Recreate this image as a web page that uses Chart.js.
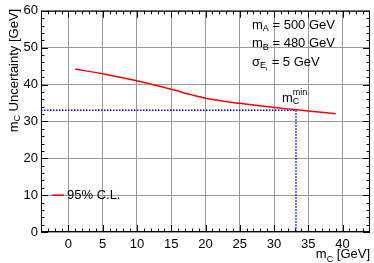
<!DOCTYPE html>
<html>
<head>
<meta charset="utf-8">
<script src="https://cdn.jsdelivr.net/npm/chart.js@4"></script>
<style>
  html, body { margin: 0; padding: 0; background: #fff; }
  #wrap { width: 374px; height: 263px; }
</style>
</head>
<body>
<div id="wrap"><canvas id="uncChart" width="374" height="263"></canvas></div>
<script>
// m_C values and 95% C.L. uncertainty
var massC = [1, 5, 10, 15, 18, 20, 25, 30, 33, 35, 39];
var uncert = [44.2, 42.9, 41.0, 38.7, 37.2, 36.3, 34.9, 33.8, 33.2, 32.8, 32.1];
// m_C^min marker (dashed lines)
var mcMin = 33.2;
var uncAtMin = 33.0;
var xTicks = [0, 5, 10, 15, 20, 25, 30, 35, 40];
var yTicks = [0, 10, 20, 30, 40, 50, 60];
var infoLines = [
  ["m", "A", " = 500 GeV"],
  ["m", "B", " = 480 GeV"],
  ["\u03c3", "E", " = 5 GeV"]
];

var FONT = "'Liberation Sans', Arial, sans-serif";

// helper: text with subscript / superscript
function subText(c, x, y, main, sub, rest, size, sup) {
  c.font = size + "px " + FONT;
  c.fillText(main, x, y);
  var w = c.measureText(main).width;
  c.font = Math.round(size * 0.72) + "px " + FONT;
  c.fillText(sub, x + w, y + size * 0.3);
  var ws = c.measureText(sub).width;
  if (sup) c.fillText(sup, x + w, y - size * 0.45);
  c.font = size + "px " + FONT;
  c.fillText(rest, x + w + ws, y);
}

var rootDeco = {
  id: "rootDeco",
  afterDraw: function (chart) {
    var c = chart.ctx;
    var a = chart.chartArea;
    var xs = chart.scales.x, ys = chart.scales.y;
    c.save();

    // frame
    c.strokeStyle = "#000";
    c.lineWidth = 1;
    c.strokeRect(a.left + 0.5, a.top + 0.5, a.right - a.left - 1, a.bottom - a.top - 1);

    // ticks on all four sides (inside)
    c.beginPath();
    for (var v = -4; v <= 44; v++) {
      var px = Math.round(xs.getPixelForValue(v)) + 0.5;
      if (px < a.left || px > a.right) continue;
      var len = (v % 5 === 0) ? 7 : 3.5;
      c.moveTo(px, a.bottom); c.lineTo(px, a.bottom - len);
      c.moveTo(px, a.top); c.lineTo(px, a.top + len);
    }
    for (var w = 0; w <= 60; w += 2) {
      var py = Math.round(ys.getPixelForValue(w)) + 0.5;
      var l2 = (w % 10 === 0) ? 7 : 3.5;
      c.moveTo(a.left, py); c.lineTo(a.left + l2, py);
      c.moveTo(a.right, py); c.lineTo(a.right - l2, py);
    }
    c.stroke();

    // info text
    c.fillStyle = "#000";
    c.textBaseline = "middle";
    c.textAlign = "left";
    for (var i = 0; i < infoLines.length; i++) {
      var ty = 25 + i * 18.5;
      if (i === 2) {
        c.font = "13px " + FONT;
        c.fillText("\u03c3", 252, ty);
        var sw = c.measureText("\u03c3").width;
        c.font = "9px " + FONT;
        c.fillText("E", 252 + sw, ty + 4);
        var ew = c.measureText("E").width;
        c.font = "6px " + FONT;
        c.fillText("i", 252 + sw + ew, ty + 7);
        c.font = "13px " + FONT;
        c.fillText(" = 5 GeV", 252 + sw + ew + 2, ty);
      } else {
        subText(c, 252, ty, infoLines[i][0], infoLines[i][1], infoLines[i][2], 13);
      }
    }

    // m_C^min label
    subText(c, 282, 98, "m", "C", "", 13, "min");

    // legend
    c.strokeStyle = "#ff0000";
    c.lineWidth = 1.5;
    c.beginPath();
    c.moveTo(52, ys.getPixelForValue(10)); c.lineTo(64, ys.getPixelForValue(10));
    c.stroke();
    c.fillStyle = "#000";
    c.font = "13px " + FONT;
    c.fillText("95% C.L.", 67, ys.getPixelForValue(10));

    // x title, right-aligned
    c.textBaseline = "alphabetic";
    c.font = "13px " + FONT;
    var rest = " [GeV]";
    var rw = c.measureText(rest).width;
    c.font = "9px " + FONT;
    var cw = c.measureText("C").width;
    c.font = "13px " + FONT;
    var mw = c.measureText("m").width;
    var x0 = a.right - rw - cw - mw;
    subText(c, x0, 258, "m", "C", rest, 13);

    // y title, rotated, right-aligned at top
    c.translate(14, a.top - 2);
    c.rotate(-Math.PI / 2);
    c.font = "13px " + FONT;
    var yrest = " Uncertainty [GeV]";
    var yw = c.measureText("m").width + c.measureText(yrest).width;
    c.font = "9px " + FONT;
    yw += c.measureText("C").width;
    c.textBaseline = "middle";
    subText(c, -yw, 0, "m", "C", yrest, 13);

    c.restore();
  }
};

var ctx = document.getElementById("uncChart").getContext("2d");

var myChart = new Chart(ctx, {
  type: "scatter",
  data: {
    datasets: [
      {
        label: "95% C.L.",
        data: massC.map(function (m, i) { return { x: m, y: uncert[i] }; }),
        showLine: true,
        borderColor: "#ff0000",
        borderWidth: 1.5,
        pointRadius: 0,
        cubicInterpolationMode: "monotone",
        order: 1
      },
      {
        label: "min",
        data: [{ x: -4, y: uncAtMin }, { x: mcMin, y: uncAtMin }, { x: mcMin, y: 0 }],
        showLine: true,
        borderColor: "#0000ff",
        borderWidth: 1.5,
        borderDash: [1.5, 1.5],
        pointRadius: 0,
        order: 2
      }
    ]
  },
  options: {
    responsive: false,
    animation: false,
    layout: { padding: { top: 8, right: 4, left: 0, bottom: 0 } },
    plugins: { legend: { display: false }, tooltip: { enabled: false } },
    scales: {
      x: {
        type: "linear",
        min: -4,
        max: 44,
        afterBuildTicks: function (s) { s.ticks = xTicks.map(function (v) { return { value: v }; }); },
        afterFit: function (s) { s.height = 31; },
        grid: { color: "#999", borderDash: [1, 2], drawTicks: false, lineWidth: 1 },
        border: { display: false },
        ticks: { color: "#000", font: { size: 13, family: FONT }, padding: 5, maxRotation: 0 }
      },
      y: {
        type: "linear",
        min: 0,
        max: 60,
        afterBuildTicks: function (s) { s.ticks = yTicks.map(function (v) { return { value: v }; }); },
        afterFit: function (s) { s.width = 41; },
        grid: { color: "#999", borderDash: [1, 2], drawTicks: false, lineWidth: 1 },
        border: { display: false },
        ticks: { color: "#000", font: { size: 13, family: FONT }, padding: 3 }
      }
    }
  },
  plugins: [rootDeco]
});
</script>
</body>
</html>
